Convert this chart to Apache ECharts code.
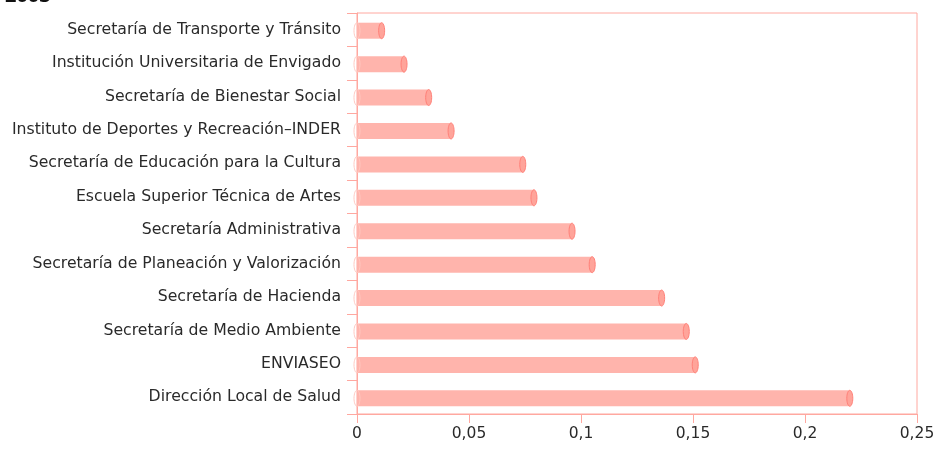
<!DOCTYPE html>
<html lang="es">
<head>
    <meta charset="UTF-8"/>
    <title>Dependencias</title>
    <script src="https://cdn.jsdelivr.net/npm/echarts@6/dist/echarts.min.js"></script>
</head>
<body style="margin:0">
<div id="main" style="width:933px; height:449px;"></div>
<script type="text/javascript">
    var categories = [
        'Secretaría de Transporte y Tránsito',
        'Institución Universitaria de Envigado',
        'Secretaría de Bienestar Social',
        'Instituto de Deportes y Recreación–INDER',
        'Secretaría de Educación para la Cultura',
        'Escuela Superior Técnica de Artes',
        'Secretaría Administrativa',
        'Secretaría de Planeación y Valorización',
        'Secretaría de Hacienda',
        'Secretaría de Medio Ambiente',
        'ENVIASEO',
        'Dirección Local de Salud'
    ];
    var values = [0.011, 0.021, 0.032, 0.042, 0.074, 0.079, 0.096, 0.105, 0.136, 0.147, 0.151, 0.220];
    var xTicks = ['0', '0,05', '0,1', '0,15', '0,2', '0,25'];

    var lineColor = '#ffa8a0';
    var labelFont = 'DejaVu Sans';
    var myChart = echarts.init(document.getElementById('main'));

    var option = {
        animation: false,
        title: {
            text: '2003',
            left: 0,
            top: -19,
            textStyle: {fontFamily: 'Open Sans', fontSize: 20, fontWeight: 'bold', color: '#111'}
        },
        grid: {
            left: 357, right: 16, top: 13, bottom: 35,
            outerBoundsMode: 'none',
            show: true, borderColor: lineColor, borderWidth: 1
        },
        xAxis: {
            type: 'value',
            min: 0, max: 0.25, interval: 0.05,
            splitLine: {show: false},
            axisLine: {show: true, lineStyle: {color: lineColor}},
            axisTick: {show: true, length: 9, lineStyle: {color: lineColor}},
            axisLabel: {
                margin: 12,
                fontFamily: labelFont, fontSize: 15.5, color: '#2a2a2a',
                formatter: function (v) { return xTicks[Math.round(v / 0.05)]; }
            }
        },
        yAxis: {
            type: 'category',
            data: categories,
            inverse: true,
            axisLine: {show: true, lineStyle: {color: lineColor}},
            axisTick: {show: true, length: 10, lineStyle: {color: lineColor}},
            axisLabel: {margin: 16, fontFamily: labelFont, fontSize: 15.7, color: '#2a2a2a'}
        },
        series: [{
            type: 'custom',
            data: values.map(function (v, i) { return [v, i]; }),
            encode: {x: 0, y: 1},
            renderItem: function (params, api) {
                var p0 = api.coord([0, api.value(1)]);
                var p1 = api.coord([api.value(0), api.value(1)]);
                var h = 16;
                var rx = 3;
                var cy = p0[1] + 1;
                return {
                    type: 'group',
                    children: [{
                        type: 'rect',
                        shape: {x: p0[0], y: cy - h / 2, width: p1[0] - p0[0], height: h},
                        style: {fill: '#ffb4ac', stroke: null}
                    }, {
                        type: 'ellipse',
                        shape: {cx: p0[0], cy: cy, rx: rx, ry: h / 2},
                        style: {fill: 'none', stroke: '#ffc8c0', lineWidth: 1}
                    }, {
                        type: 'ellipse',
                        shape: {cx: p1[0], cy: cy, rx: rx, ry: h / 2},
                        style: {fill: '#ffa49a', stroke: '#ff8078', lineWidth: 1}
                    }]
                };
            }
        }]
    };

    myChart.setOption(option);
</script>
</body>
</html>
